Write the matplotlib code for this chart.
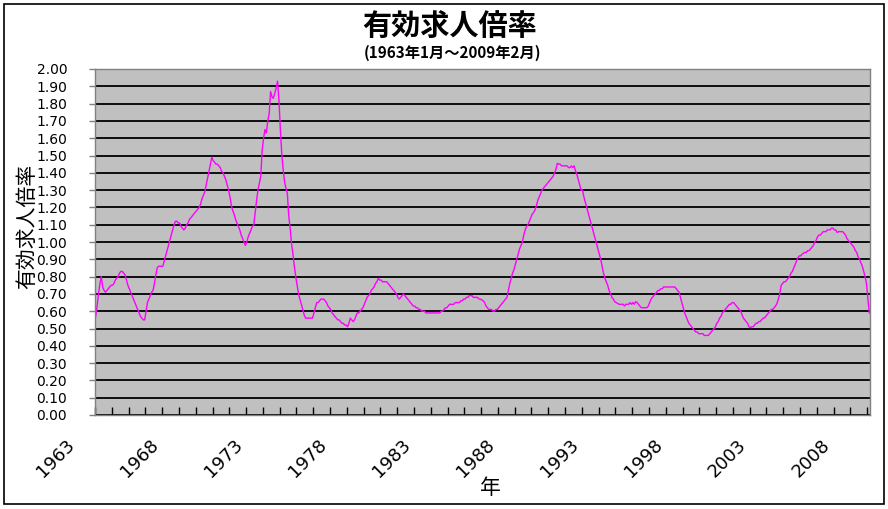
import matplotlib
matplotlib.use("Agg")
import matplotlib.pyplot as plt
from matplotlib.patches import Rectangle
import numpy as np

# Monthly active job openings-to-applicants ratio, Jan 1963 - Feb 2009
ratio_1963_1972 = [
    0.57, 0.63, 0.70, 0.76, 0.80, 0.74, 0.72, 0.71, 0.72, 0.73, 0.74, 0.75,  # 1963
    0.75, 0.76, 0.78, 0.79, 0.80, 0.82, 0.83, 0.83, 0.82, 0.81, 0.78, 0.75,  # 1964
    0.73, 0.71, 0.69, 0.67, 0.65, 0.63, 0.61, 0.59, 0.57, 0.56, 0.55, 0.55,  # 1965
    0.60, 0.65, 0.67, 0.69, 0.71, 0.72, 0.76, 0.81, 0.85, 0.86, 0.86, 0.86,  # 1966
    0.86, 0.89, 0.92, 0.95, 0.98, 1.01, 1.04, 1.07, 1.10, 1.12, 1.12, 1.11,  # 1967
    1.11, 1.09, 1.08, 1.07, 1.08, 1.10, 1.11, 1.13, 1.14, 1.15, 1.16, 1.17,  # 1968
    1.18, 1.19, 1.20, 1.22, 1.25, 1.27, 1.29, 1.33, 1.37, 1.41, 1.45, 1.49,  # 1969
    1.47, 1.46, 1.45, 1.45, 1.44, 1.43, 1.41, 1.40, 1.38, 1.36, 1.33, 1.30,  # 1970
    1.26, 1.21, 1.18, 1.16, 1.13, 1.11, 1.09, 1.07, 1.04, 1.02, 1.00, 0.98,  # 1971
    1.00, 1.03, 1.05, 1.07, 1.09, 1.10, 1.17, 1.24, 1.30, 1.34, 1.38, 1.53,  # 1972
]
ratio_1973_1982 = [
    1.60, 1.65, 1.63, 1.70, 1.74, 1.87, 1.84, 1.83, 1.86, 1.89, 1.93, 1.82,  # 1973
    1.65, 1.51, 1.42, 1.35, 1.31, 1.28, 1.15, 1.08, 0.99, 0.93, 0.86, 0.80,  # 1974
    0.75, 0.70, 0.67, 0.64, 0.61, 0.58, 0.56, 0.56, 0.56, 0.56, 0.56, 0.56,  # 1975
    0.59, 0.62, 0.65, 0.65, 0.66, 0.67, 0.67, 0.67, 0.66, 0.65, 0.63, 0.62,  # 1976
    0.61, 0.59, 0.58, 0.57, 0.56, 0.55, 0.55, 0.54, 0.53, 0.53, 0.52, 0.52,  # 1977
    0.51, 0.53, 0.56, 0.55, 0.54, 0.55, 0.57, 0.59, 0.59, 0.60, 0.61, 0.62,  # 1978
    0.64, 0.66, 0.68, 0.69, 0.70, 0.72, 0.73, 0.74, 0.76, 0.77, 0.79, 0.78,  # 1979
    0.78, 0.77, 0.77, 0.77, 0.77, 0.76, 0.75, 0.74, 0.73, 0.72, 0.71, 0.70,  # 1980
    0.68, 0.67, 0.68, 0.69, 0.70, 0.69, 0.68, 0.67, 0.66, 0.65, 0.64, 0.63,  # 1981
    0.63, 0.62, 0.62, 0.61, 0.61, 0.60, 0.60, 0.60, 0.59, 0.59, 0.59, 0.59,  # 1982
]
ratio_1983_1992 = [
    0.59, 0.59, 0.59, 0.59, 0.59, 0.59, 0.59, 0.60, 0.60, 0.61, 0.62, 0.62,  # 1983
    0.63, 0.64, 0.64, 0.64, 0.64, 0.65, 0.65, 0.65, 0.65, 0.66, 0.66, 0.67,  # 1984
    0.67, 0.68, 0.68, 0.69, 0.69, 0.69, 0.68, 0.68, 0.68, 0.68, 0.67, 0.67,  # 1985
    0.665, 0.66, 0.65, 0.63, 0.62, 0.61, 0.61, 0.61, 0.60, 0.60, 0.61, 0.61,  # 1986
    0.62, 0.63, 0.64, 0.65, 0.66, 0.67, 0.68, 0.72, 0.76, 0.79, 0.82, 0.84,  # 1987
    0.87, 0.90, 0.93, 0.96, 0.98, 1.00, 1.04, 1.07, 1.09, 1.10, 1.12, 1.14,  # 1988
    1.16, 1.17, 1.185, 1.21, 1.24, 1.26, 1.28, 1.30, 1.31, 1.32, 1.33, 1.34,  # 1989
    1.35, 1.36, 1.37, 1.38, 1.40, 1.42, 1.455, 1.45, 1.45, 1.44, 1.44, 1.44,  # 1990
    1.44, 1.44, 1.43, 1.43, 1.44, 1.43, 1.44, 1.41, 1.39, 1.36, 1.33, 1.30,  # 1991
    1.30, 1.26, 1.23, 1.20, 1.17, 1.14, 1.11, 1.08, 1.05, 1.02, 0.99, 0.96,  # 1992
]
ratio_1993_2002 = [
    0.93, 0.90, 0.86, 0.82, 0.79, 0.77, 0.75, 0.72, 0.70, 0.68, 0.67, 0.655,  # 1993
    0.65, 0.645, 0.64, 0.64, 0.64, 0.64, 0.63, 0.64, 0.64, 0.64, 0.65, 0.64,  # 1994
    0.65, 0.64, 0.655, 0.65, 0.64, 0.63, 0.62, 0.62, 0.62, 0.62, 0.62, 0.63,  # 1995
    0.65, 0.67, 0.68, 0.69, 0.70, 0.71, 0.72, 0.72, 0.73, 0.73, 0.74, 0.74,  # 1996
    0.74, 0.74, 0.74, 0.74, 0.74, 0.74, 0.74, 0.73, 0.72, 0.71, 0.68, 0.65,  # 1997
    0.62, 0.59, 0.57, 0.55, 0.53, 0.52, 0.51, 0.50, 0.49, 0.48, 0.48, 0.47,  # 1998
    0.47, 0.47, 0.47, 0.46, 0.46, 0.46, 0.46, 0.47, 0.48, 0.49, 0.50, 0.51,  # 1999
    0.53, 0.54, 0.56, 0.57, 0.59, 0.60, 0.61, 0.62, 0.63, 0.64, 0.64, 0.65,  # 2000
    0.65, 0.64, 0.63, 0.62, 0.61, 0.60, 0.58, 0.56, 0.55, 0.54, 0.53, 0.51,  # 2001
    0.505, 0.51, 0.51, 0.52, 0.53, 0.53, 0.54, 0.54, 0.55, 0.56, 0.56, 0.57,  # 2002
]
ratio_2003_2009 = [
    0.58, 0.59, 0.60, 0.61, 0.61, 0.62, 0.63, 0.645, 0.67, 0.70, 0.75, 0.76,  # 2003
    0.77, 0.77, 0.78, 0.79, 0.80, 0.82, 0.83, 0.85, 0.87, 0.89, 0.91, 0.92,  # 2004
    0.92, 0.93, 0.935, 0.94, 0.94, 0.95, 0.95, 0.96, 0.97, 0.98, 1.00, 1.01,  # 2005
    1.03, 1.04, 1.04, 1.05, 1.06, 1.06, 1.06, 1.07, 1.07, 1.07, 1.08, 1.08,  # 2006
    1.07, 1.07, 1.055, 1.06, 1.06, 1.06, 1.06, 1.05, 1.04, 1.02, 1.01, 1.00,  # 2007
    0.99, 0.98, 0.97, 0.95, 0.94, 0.915, 0.90, 0.88, 0.86, 0.83, 0.80, 0.76,  # 2008
    0.67, 0.59,                                                              # 2009
]
ratio = ratio_1963_1972 + ratio_1973_1982 + ratio_1983_1992 + ratio_1993_2002 + ratio_2003_2009

first_year = 1963
year_labels = [str(y) for y in range(1963, 2009, 5)]
y_ticks = [round(0.1 * i, 1) for i in range(21)]

title = "有効求人倍率"
subtitle = "(1963年1月～2009年2月)"
y_label = "有効求人倍率"
x_label = "年"

W, H = 888, 509
fig = plt.figure(figsize=(W / 100, H / 100), dpi=100)
fig.patch.set_facecolor("white")

cjk = ["Noto Sans CJK JP", "DejaVu Sans"]

left, right, top, bottom = 95, 870, 69, 415
ax = fig.add_axes([left / W, 1 - bottom / H, (right - left) / W, (bottom - top) / H])
ax.set_facecolor("#C0C0C0")
for s in ax.spines.values():
    s.set_color("#808080")
    s.set_linewidth(1.0)

n = len(ratio)
xs = np.arange(n) + 0.5
ax.plot(xs, ratio, color="#FF00FF", linewidth=1.0, solid_joinstyle="round")

ax.set_xlim(0, n)
ax.set_ylim(0, 2.0)

# horizontal gridlines
ax.set_yticks(y_ticks)
ax.set_yticklabels([f"{v:.2f}" for v in y_ticks], fontsize=10, family="DejaVu Sans")
ax.yaxis.grid(True, color="black", linewidth=1.3)
ax.set_axisbelow(True)
ax.tick_params(axis="y", direction="out", length=4, width=1, color="#808080", pad=16)

# yearly inward ticks
year_pos = list(range(0, n, 12))
ax.set_xticks(year_pos)
ax.set_xticklabels([])
ax.tick_params(axis="x", direction="in", length=6, width=1, color="black")

for i, lab in enumerate(year_labels):
    pos = i * 60
    ax.annotate(lab, xy=(pos, 0), xycoords=("data", "axes fraction"),
                xytext=(-23, -27), textcoords="offset pixels",
                rotation=45, rotation_mode="anchor", ha="right", va="center",
                fontsize=13, family="DejaVu Sans")

fig.text(27 / W, 1 - 226 / H, y_label, rotation=90, ha="center", va="center",
         fontsize=15, family=cjk)
fig.text(490 / W, 1 - 488 / H, x_label, ha="center", va="center",
         fontsize=15, family=cjk)

fig.text(450 / W, 1 - 27 / H, title, ha="center", va="center",
         fontsize=21, fontweight="bold", style="italic", family=cjk)
fig.text(452 / W, 1 - 52.5 / H, subtitle, ha="center", va="center",
         fontsize=11, fontweight="bold", style="italic", family=cjk)

fig.patches.append(Rectangle((4 / W, 1 - 504 / H), 880 / W, 500 / H,
                             transform=fig.transFigure, fill=False,
                             edgecolor="black", linewidth=1.2))

fig.savefig("out.png", dpi=100)
